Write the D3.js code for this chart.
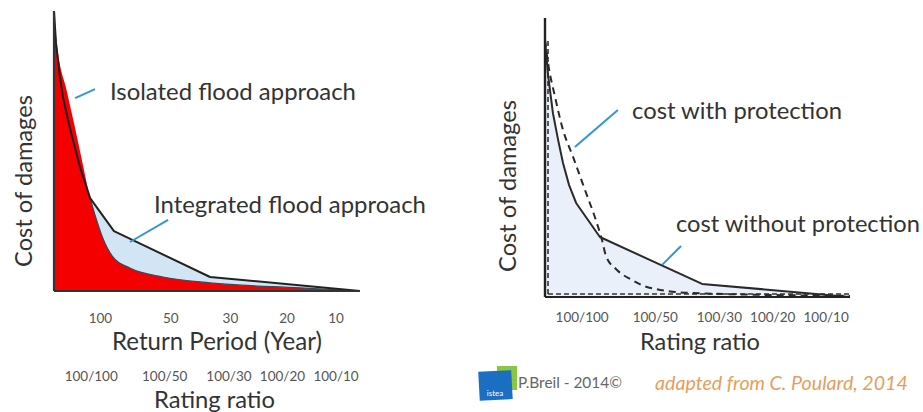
<!DOCTYPE html>
<html>
<head>
<meta charset="utf-8">
<script src="https://cdn.jsdelivr.net/npm/d3@7"></script>
<style>
  body { margin: 0; background: #fff; }
  svg { display: block; }
  text { font-family: Lato, "Open Sans", sans-serif; }
</style>
</head>
<body>
<svg id="chart" width="923" height="412"></svg>
<script>
// Damage-cost curves. x = position along the frequency axis (0..100), y = relative cost (0..100)

// Left panel: isolated vs integrated flood approach
const integratedX = [0, 0.65, 1.96, 2.94, 4.58, 6.21, 8.5, 11.8, 19.6, 51.0, 100];
const integratedY = [100, 88.6, 76.4, 69.3, 61.1, 53.9, 44.3, 33.2, 21.4, 5.0, 0];
const isolatedX = [0, 0.98, 4.25, 6.6, 9.25, 11.8, 13.7, 15.7, 19.3, 24.8, 35.6, 51.0, 80.4, 100];
const isolatedY = [98.6, 87.9, 71.1, 59.6, 46.1, 33.2, 26.1, 19.6, 12.1, 8.2, 5.0, 2.9, 1.1, 0];

// Right panel: cost without / with protection
const withoutX = [0, 1.0, 2.6, 4.3, 5.9, 7.9, 10.2, 18.0, 51.5, 100];
const withoutY = [92.1, 79.6, 65.9, 56.3, 48.0, 40.1, 33.7, 21.5, 4.7, 0];
const withX = [0, 1.0, 3.3, 5.9, 9.2, 13.1, 17.0, 18.7, 20.0, 23.6, 28.5, 33.4, 48.5, 100];
const withY = [92.1, 83.9, 71.7, 59.9, 50.2, 38.4, 26.5, 20.4, 14.7, 9.7, 6.1, 3.6, 1.4, 0.4];

// Axis tick labels and where they sit on the x axis
const returnPeriods = ["100", "50", "30", "20", "10"];
const returnPeriodAt = [15, 38, 57.5, 76, 92];
const ratingRatios = ["100/100", "100/50", "100/30", "100/20", "100/10"];
const ratingAt = [12, 36, 57, 74.5, 92];

const zip = (xs, ys) => xs.map((x, i) => [x, ys[i]]);

const svg = d3.select("#chart");
const INK = "#333";
const TICK_INK = "#555";
const LEADER = "#2f97d6";

// scale font-size so a text element spans the given width
function fit(sel, width) {
  const node = sel.node();
  const fs = parseFloat(sel.attr("font-size"));
  const len = node.getComputedTextLength();
  sel.attr("font-size", (fs * width / len).toFixed(2));
  return sel;
}

function label(g, txt, x, y, opts = {}) {
  const t = g.append("text")
    .attr("x", x).attr("y", y)
    .attr("dominant-baseline", "central")
    .attr("text-anchor", opts.anchor || "start")
    .attr("fill", opts.fill || INK)
    .attr("font-size", opts.size || 20)
    .attr("font-style", opts.italic ? "italic" : null)
    .text(txt);
  if (opts.width) fit(t, opts.width);
  return t;
}

function tickRow(g, scale, values, names, y, size) {
  const axis = d3.axisBottom(scale)
    .tickValues(values)
    .tickFormat((d, i) => names[i])
    .tickSize(0);
  const a = g.append("g").attr("transform", `translate(0,${y})`).call(axis);
  a.select(".domain").remove();
  a.selectAll("text")
    .attr("y", 0).attr("dy", null)
    .attr("dominant-baseline", "central")
    .attr("fill", TICK_INK)
    .attr("font-size", size)
    .attr("font-family", "Lato, 'Open Sans', sans-serif");
  return a;
}

function yTitle(g, cx, cy) {
  const t = g.append("text")
    .attr("transform", `translate(${cx},${cy}) rotate(-90)`)
    .attr("text-anchor", "middle")
    .attr("dominant-baseline", "central")
    .attr("fill", INK)
    .attr("font-size", 20)
    .text("Cost of damages");
  fit(t, 172);
}

// ---------- Left panel ----------
{
  const g = svg.append("g");
  const x = d3.scaleLinear().domain([0, 100]).range([54, 360]);
  const y = d3.scaleLinear().domain([0, 100]).range([291, 11]);

  const area = d3.area().x(d => x(d[0])).y0(y(0)).y1(d => y(d[1]));
  const integrated = zip(integratedX, integratedY);
  const isolated = zip(isolatedX, isolatedY);

  // light blue under the integrated curve, red under the isolated one
  g.append("path").datum(integrated)
    .attr("d", area.curve(d3.curveLinear))
    .attr("fill", "#d2e5f4");
  g.append("path").datum(isolated)
    .attr("d", area.curve(d3.curveMonotoneX))
    .attr("fill", "#f50000");

  // thin outline of the red curve where it lies under the blue band
  g.append("path").datum(isolated.slice(5))
    .attr("d", d3.line().x(d => x(d[0])).y(d => y(d[1])).curve(d3.curveMonotoneX))
    .attr("fill", "none").attr("stroke", "#3c4656").attr("stroke-width", 1.2);

  // integrated approach curve
  g.append("path").datum(integrated)
    .attr("d", d3.line().x(d => x(d[0])).y(d => y(d[1])))
    .attr("fill", "none").attr("stroke", "#222").attr("stroke-width", 2)
    .attr("stroke-linejoin", "round");

  // axes
  g.append("line").attr("x1", x(0)).attr("x2", x(0)).attr("y1", y(100)).attr("y2", y(0))
    .attr("stroke", INK).attr("stroke-width", 2.2);
  g.append("line").attr("x1", x(0)).attr("x2", x(100)).attr("y1", y(0)).attr("y2", y(0))
    .attr("stroke", INK).attr("stroke-width", 2);

  // leaders and annotations
  g.append("line").attr("x1", x(6.9)).attr("y1", y(68.9)).attr("x2", x(13.4)).attr("y2", y(72.1))
    .attr("stroke", LEADER).attr("stroke-width", 2);
  g.append("line").attr("x1", x(24.8)).attr("y1", y(17.5)).attr("x2", x(37.3)).attr("y2", y(25.4))
    .attr("stroke", LEADER).attr("stroke-width", 2);
  label(g, "Isolated flood approach", 110, 90, { width: 246 });
  label(g, "Integrated flood approach", 154, 203, { width: 272 });

  yTitle(g, 23, 181);
  tickRow(g, x, returnPeriodAt, returnPeriods, 318, 13.5);
  label(g, "Return Period (Year)", 217, 340, { anchor: "middle", width: 210 });
  tickRow(g, x, ratingAt, ratingRatios, 376, 13.5);
  label(g, "Rating ratio", 214.5, 399, { anchor: "middle", width: 121 });
}

// ---------- Right panel ----------
{
  const g = svg.append("g");
  const x = d3.scaleLinear().domain([0, 100]).range([545, 850]);
  const y = d3.scaleLinear().domain([0, 100]).range([297, 18]);

  const without = zip(withoutX, withoutY);
  const withP = zip(withX, withY);

  g.append("path").datum(without)
    .attr("d", d3.area().x(d => x(d[0])).y0(y(0)).y1(d => y(d[1])))
    .attr("fill", "#eaf0f9");

  // dashed outline of the protected case, running along both axes
  g.append("line").attr("x1", x(0) + 3).attr("x2", x(0) + 3).attr("y1", y(0) - 3).attr("y2", y(92))
    .attr("stroke", "#333").attr("stroke-width", 1.6).attr("stroke-dasharray", "5,3");
  g.append("line").attr("x1", x(0) + 3).attr("x2", x(100)).attr("y1", y(0) - 3).attr("y2", y(0) - 3)
    .attr("stroke", "#333").attr("stroke-width", 1.6).attr("stroke-dasharray", "5,3");
  g.append("path").datum(withP)
    .attr("d", d3.line().x(d => x(d[0])).y(d => y(d[1])).curve(d3.curveMonotoneX))
    .attr("fill", "none").attr("stroke", "#2a2a2a").attr("stroke-width", 2)
    .attr("stroke-dasharray", "7,5");

  // unprotected curve
  g.append("path").datum(without)
    .attr("d", d3.line().x(d => x(d[0])).y(d => y(d[1])))
    .attr("fill", "none").attr("stroke", "#2a2a2a").attr("stroke-width", 2)
    .attr("stroke-linejoin", "round");

  // axes
  g.append("line").attr("x1", x(0)).attr("x2", x(0)).attr("y1", y(100)).attr("y2", y(0))
    .attr("stroke", "#222").attr("stroke-width", 2.4);
  g.append("line").attr("x1", x(0)).attr("x2", x(100)).attr("y1", y(0)).attr("y2", y(0))
    .attr("stroke", "#222").attr("stroke-width", 2.2);

  g.append("line").attr("x1", x(9.8)).attr("y1", y(53.8)).attr("x2", x(23.9)).attr("y2", y(67.0))
    .attr("stroke", LEADER).attr("stroke-width", 2);
  g.append("line").attr("x1", x(38.4)).attr("y1", y(11.5)).attr("x2", x(44.6)).attr("y2", y(18.3))
    .attr("stroke", LEADER).attr("stroke-width", 2);
  label(g, "cost with protection", 632, 110, { width: 210 });
  label(g, "cost without protection", 676, 223, { width: 244 });

  yTitle(g, 507, 186);
  tickRow(g, x, ratingAt, ratingRatios, 317, 13.5);
  label(g, "Rating ratio", 700, 341, { anchor: "middle", width: 120 });

  // credit line with institute logo
  const logo = g.append("g");
  logo.append("rect").attr("x", 497).attr("y", 366).attr("width", 20).attr("height", 24).attr("fill", "#8cc63f");
  logo.append("rect").attr("x", 479).attr("y", 371).attr("width", 33).attr("height", 29)
    .attr("fill", "#1b6fc2").attr("transform", "rotate(-3 495 386)");
  logo.append("text").attr("x", 495).attr("y", 396).attr("text-anchor", "middle")
    .attr("font-size", 8).attr("fill", "#fff").text("istea");
  label(g, "P.Breil - 2014©", 518, 382, { fill: "#666", width: 104, size: 17 });
  label(g, "adapted from C. Poulard, 2014", 655, 382, { fill: "#e99d5a", italic: true, width: 253, size: 17 });
}
</script>
</body>
</html>
